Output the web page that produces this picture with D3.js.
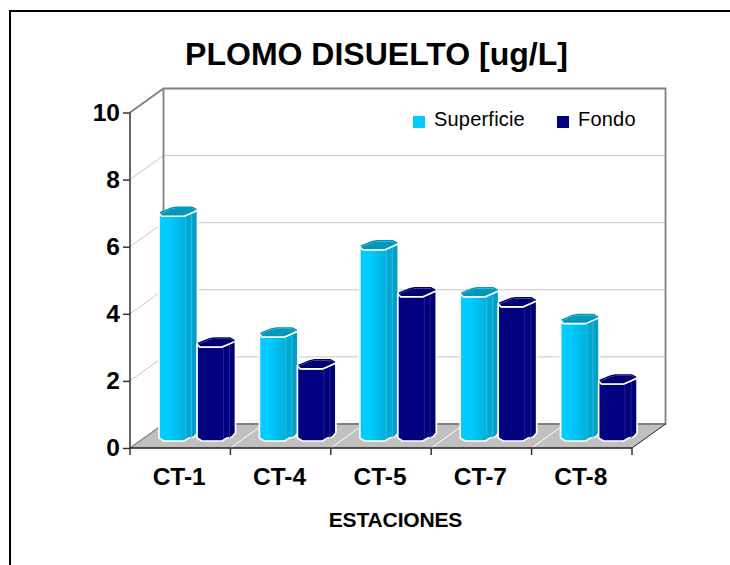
<!DOCTYPE html>
<html><head><meta charset="utf-8"><script src="https://cdn.jsdelivr.net/npm/d3@7"></script>
<style>html,body{margin:0;padding:0;background:#fff;overflow:hidden}svg{display:block}text{font-family:"Liberation Sans",Arial,sans-serif;fill:#000}</style></head>
<body><svg id="c" width="730" height="565"></svg>
<script>
const titleText = "PLOMO DISUELTO [ug/L]";
const xTitle = "ESTACIONES";
const categories = ["CT-1","CT-4","CT-5","CT-7","CT-8"];
const seriesNames = ["Superficie","Fondo"];
const superficie = [6.7,3.1,5.7,4.3,3.5];
const fondo = [2.8,2.15,4.3,4.0,1.7];
const yTicks = [0,2,4,6,8,10];

const svg = d3.select("#c");
const defs = svg.append("defs");
const palettes = [
  {id:"gS", stops:[[0,"#00ccff"],[.25,"#00ccff"],[.68,"#00b0dc"],[.7,"#00a8d4"],[.84,"#00a8d4"],[.86,"#009fc8"],[1,"#009fc8"]], top:"#0099bb", key:"#00ccff", line:"#3cc0e0"},
  {id:"gF", stops:[[0,"#000080"],[.68,"#000080"],[.7,"#00007c"],[.84,"#00007c"],[.86,"#000074"],[1,"#000074"]], top:"#000070", key:"#000080", line:"#2a2a98"}
];
palettes.forEach(p=>{
  const g=defs.append("linearGradient").attr("id",p.id).attr("x1",0).attr("x2",1).attr("y1",0).attr("y2",0);
  p.stops.forEach(s=>g.append("stop").attr("offset",s[0]).attr("stop-color",s[1]));
});

// frame
svg.append("path").attr("d","M10,565V11H730").attr("fill","none").attr("stroke","#000").attr("stroke-width",2);

const x = d3.scaleBand().domain(categories).range([130,632]);
const y = d3.scaleLinear().domain([0,10]).range([448,112.5]);
const dx=33.5, dy=-24;
const y0=y(0), y10=y(10);

// floor
svg.append("path").attr("d",`M130,${y0}L${130+dx},${y0+dy}H${632+dx}L632,${y0}Z`).attr("fill","#c0c0c0");
categories.slice(1).forEach(c=>svg.append("line").attr("x1",x(c)).attr("y1",y0).attr("x2",x(c)+dx).attr("y2",y0+dy).attr("stroke","#fff").attr("stroke-width",1));
// grid
yTicks.filter(t=>t>0&&t<10).forEach(t=>{
  svg.append("path").attr("d",`M130,${y(t)}L${130+dx},${y(t)+dy}H${632+dx}`).attr("fill","none").attr("stroke","#c8c8c8").attr("stroke-width",1);
});
// walls
svg.append("path").attr("d",`M130,${y10}L${130+dx},${y10+dy}H${632+dx}V${y0+dy}H${130+dx}V${y10+dy}`).attr("fill","none").attr("stroke","#808080").attr("stroke-width",1.8);
svg.append("line").attr("x1",130).attr("y1",y0).attr("x2",130+dx).attr("y2",y0+dy).attr("stroke","#808080").attr("stroke-width",1.2);
svg.append("line").attr("x1",632).attr("y1",y0).attr("x2",632+dx).attr("y2",y0+dy).attr("stroke","#222").attr("stroke-width",1);

// bars
const barW=38, bx0=29, lift=7;
function bar(cat,v,si){
  const p=palettes[si];
  const L=x(cat)+bx0+si*barW, R=L+barW+0.5;
  const F=y(v)-lift, B=y0-lift;
  const g=svg.append("g");
  g.append("path").attr("d",`M${L},${F-3}V${B-3}L${L+5},${B}H${L+25}L${L+30},${B-3}L${L+35},${B-4}L${R},${B-8}V${F-6}L${L+32},${F-3}L${L+25},${F}H${L+3}Z`)
    .attr("fill",`url(#${p.id})`).attr("stroke","#fff").attr("stroke-width",1.7).attr("stroke-linejoin","round");
  [L+26.5,L+32.5].forEach(px=>g.append("line").attr("x1",px).attr("x2",px).attr("y1",F-1).attr("y2",B-3).attr("stroke",p.line).attr("stroke-width",0.8));
  g.append("path").attr("d",`M${L},${F-3}L${L+12},${F-8}L${L+17},${F-9}H${L+33}L${R},${F-6}L${L+32},${F-3}L${L+25},${F}H${L+3}Z`)
    .attr("fill",p.top).attr("stroke","#fff").attr("stroke-width",1.5).attr("stroke-linejoin","round");
  g.append("path").attr("d",`M${L+1},${F-3.5}L${L+12},${F-8}L${L+17},${F-9}H${L+33}L${R-1},${F-6.5}`)
    .attr("fill","none").attr("stroke",p.top).attr("stroke-width",1.5);
}
categories.forEach((c,i)=>{bar(c,superficie[i],0);bar(c,fondo[i],1);});

// axes
const axY=svg.append("g").attr("transform","translate(130,0)").call(d3.axisLeft(y).tickValues(yTicks).tickSize(7).tickPadding(3).tickFormat(d3.format("d")));
axY.selectAll("path,line").attr("stroke","#333").attr("stroke-width",1.5);
axY.select("path").attr("d",`M0,${y10}V${y0}`);
axY.selectAll("text").style("font-size","24.5px").style("font-weight","bold").attr("fill","#000");
const axX=svg.append("g").attr("transform",`translate(0,${y0})`).call(d3.axisBottom(x).tickSize(0).tickPadding(19.6));
axX.selectAll("text").style("font-size","24.5px").style("font-weight","bold").attr("fill","#000").attr("dx",-1);
axX.select("path").attr("d","M130,0H632").attr("stroke","#222").attr("stroke-width",1.5);
[...categories.map(c=>x(c)),632].forEach(px=>axX.append("line").attr("x1",px).attr("x2",px).attr("y1",0).attr("y2",7).attr("stroke","#333").attr("stroke-width",1.5));

// title
svg.append("text").attr("x",376.5).attr("y",65).attr("text-anchor","middle").style("font-size","32px").style("font-weight","bold").text(titleText);
svg.append("text").attr("x",395.5).attr("y",527).attr("text-anchor","middle").style("font-size","21px").style("font-weight","bold").style("letter-spacing","-0.15px").text(xTitle);

// legend
const lx=[413,557], tx=[434,578];
seriesNames.forEach((s,i)=>{
  svg.append("rect").attr("x",lx[i]).attr("y",116).attr("width",12).attr("height",12).attr("fill",palettes[i].key);
  svg.append("text").attr("x",tx[i]).attr("y",126).style("font-size","20px").style("letter-spacing","0.2px").text(s);
});
</script></body></html>
